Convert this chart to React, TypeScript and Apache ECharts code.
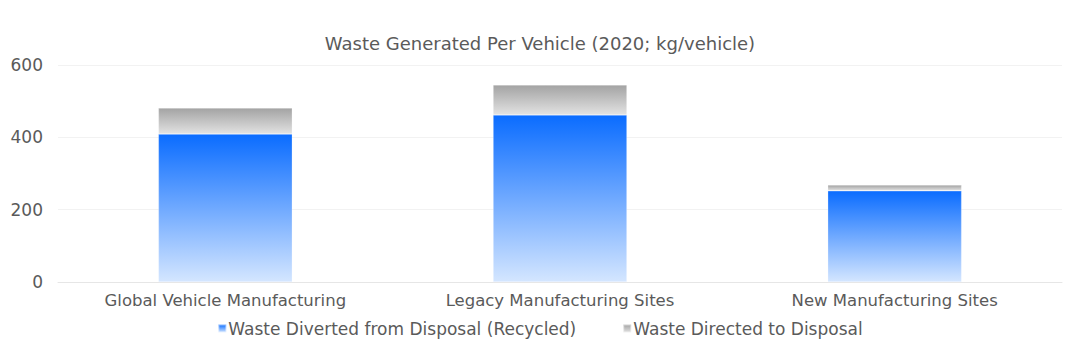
import React, { useEffect, useRef } from "react";
import * as echarts from "echarts";

const categories = ["Global Vehicle Manufacturing", "Legacy Manufacturing Sites", "New Manufacturing Sites"];
const recycled = [409, 462, 252];
const disposal = [72, 83, 16];
const seriesNames = ["Waste Diverted from Disposal (Recycled)", "Waste Directed to Disposal"];

const FONT = "'DejaVu Sans', sans-serif";

function grad(top: string, bottom: string) {
  return new echarts.graphic.LinearGradient(0, 0, 0, 1, [
    { offset: 0, color: top },
    { offset: 1, color: bottom },
  ]);
}

export default function App() {
  const ref = useRef<HTMLDivElement>(null);
  useEffect(() => {
    if (!ref.current) return;
    const chart = echarts.init(ref.current, undefined, { renderer: "svg" });
    chart.setOption({
      animation: false,
      title: {
        text: "Waste Generated Per Vehicle (2020; kg/vehicle)",
        left: "center",
        top: 29,
        textStyle: { fontFamily: FONT, fontSize: 18, fontWeight: "normal", color: "#5a5a5a" },
      },
      legend: {
        bottom: 14,
        left: "center",
        itemWidth: 8,
        itemHeight: 8,
        itemGap: 46,
        icon: "rect",
        textStyle: { fontFamily: FONT, fontSize: 17, color: "#5a5a5a", padding: [0, 0, 0, -3] },
        data: seriesNames,
      },
      grid: { left: 58, right: 18, top: 65, bottom: 74 },
      xAxis: {
        type: "category",
        data: categories,
        axisTick: { show: false },
        axisLine: { lineStyle: { color: "#e6e6e6" } },
        axisLabel: { fontFamily: FONT, fontSize: 16.5, color: "#5a5a5a", margin: 10 },
      },
      yAxis: {
        type: "value",
        min: 0,
        max: 600,
        interval: 200,
        splitLine: { lineStyle: { color: "#f2f2f2" } },
        axisLabel: { fontFamily: FONT, fontSize: 17, color: "#5a5a5a", margin: 15 },
      },
      series: [
        {
          name: seriesNames[0],
          type: "bar",
          stack: "a",
          barWidth: "40%",
          data: recycled,
          itemStyle: { color: grad("#0a6cff", "#d4e6ff"), borderColor: "rgba(255,255,255,0.5)", borderWidth: 0.5 },
        },
        {
          name: seriesNames[1],
          type: "bar",
          stack: "a",
          barWidth: "40%",
          data: disposal,
          itemStyle: { color: grad("#a3a3a3", "#e2e2e2"), borderColor: "rgba(255,255,255,0.5)", borderWidth: 0.5 },
        },
      ],
    });
    return () => chart.dispose();
  }, []);
  return <div ref={ref} style={{ position: "absolute", left: 0, top: 0, width: 1080, height: 356 }} />;
}
